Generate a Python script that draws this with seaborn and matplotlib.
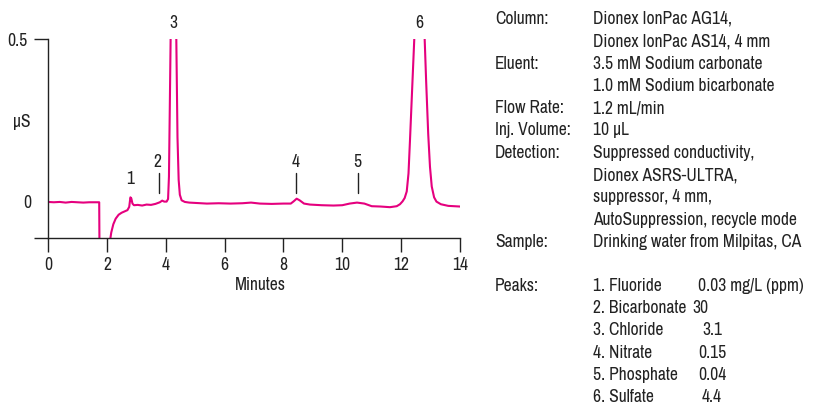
import matplotlib.pyplot as plt
import seaborn as sns
import pandas as pd
from matplotlib import font_manager as fm

# chromatogram trace (minutes, uS)
time = [0.00, 0.20, 0.40, 0.60, 0.80, 1.00, 1.20, 1.40, 1.60, 1.74,
        1.75, 1.78, 1.95, 2.05, 2.10, 2.15, 2.22, 2.30, 2.40, 2.50,
        2.60, 2.70, 2.76, 2.80, 2.83, 2.87, 2.92, 3.05, 3.20, 3.35,
        3.50, 3.65, 3.80, 3.88, 3.95, 4.03, 4.08, 4.11, 4.14, 4.18,
        4.22, 4.27, 4.32, 4.36, 4.40, 4.44, 4.48, 4.54, 4.65, 4.80,
        5.00, 5.40, 5.80, 6.20, 6.60, 6.90, 7.20, 7.60, 8.00, 8.25,
        8.35, 8.45, 8.55, 8.70, 8.90, 9.30, 9.70, 10.00, 10.25, 10.50,
        10.75, 11.00, 11.30, 11.62, 11.85, 11.96, 12.05, 12.12, 12.19, 12.25,
        12.30, 12.38, 12.47, 12.55, 12.62, 12.70, 12.78, 12.85, 12.92, 12.98,
        13.04, 13.12, 13.20, 13.35, 13.60, 13.80, 14.00]
signal = [0.003, 0.002, 0.003, 0.001, 0.003, 0.002, 0.001, 0.002, 0.002, 0.002,
          -0.15, -0.35, -0.35, -0.20, -0.12, -0.09, -0.065, -0.048, -0.036, -0.030,
          -0.026, -0.022, -0.012, 0.017, 0.014, -0.002, -0.007, -0.006, -0.008, -0.005,
          -0.006, -0.003, 0.002, 0.007, 0.004, 0.004, 0.012, 0.08, 0.30, 0.60,
          0.95, 1.15, 0.95, 0.50, 0.20, 0.07, 0.025, 0.008, 0.003, 0.001,
          0.000, -0.002, -0.001, -0.002, -0.001, 0.001, -0.002, -0.003, -0.002, -0.002,
          0.005, 0.013, 0.008, -0.002, -0.005, -0.007, -0.008, -0.007, -0.002, 0.001,
          -0.002, -0.010, -0.011, -0.013, -0.010, -0.004, 0.005, 0.015, 0.035, 0.09,
          0.19, 0.36, 0.55, 0.78, 0.88, 0.78, 0.55, 0.37, 0.21, 0.11,
          0.05, 0.017, 0.004, -0.004, -0.009, -0.010, -0.011]

peak_ids = ['1', '2', '3', '4', '5', '6']
peak_times = [2.78, 3.78, 4.27, 8.42, 10.52, 12.62]

info_keys = ['Column:', '', 'Eluent:', '', 'Flow Rate:', 'Inj. Volume:',
             'Detection:', '', '', '', 'Sample:']
info_vals = ['Dionex IonPac AG14,', 'Dionex IonPac AS14, 4 mm',
             '3.5 mM Sodium carbonate', '1.0 mM Sodium bicarbonate',
             '1.2 mL/min', '10 µL', 'Suppressed conductivity,',
             'Dionex ASRS-ULTRA,', 'suppressor, 4 mm,',
             'AutoSuppression, recycle mode', 'Drinking water from Milpitas, CA']

peak_names = ['1. Fluoride', '2. Bicarbonate', '3. Chloride',
              '4. Nitrate', '5. Phosphate', '6. Sulfate']
peak_conc = ['0.03 mg/L (ppm)', '30', '3.1', '0.15', '0.04', '4.4']

sns.set_style('ticks')

# prefer a narrow sans if one is installed, otherwise Liberation Sans
narrow = [f.name for f in fm.fontManager.ttflist
          if 'Narrow' in f.name or 'Condensed' in f.name]
family = narrow[0] if narrow else 'Liberation Sans'
plt.rcParams['font.family'] = [family, 'DejaVu Sans']
plt.rcParams['font.weight'] = 'light'

W, H = 815, 405
fig = plt.figure(figsize=(W / 100, H / 100), dpi=100)

# size the text so a reference line has the width it has in the picture
renderer = fig.canvas.get_renderer()
probe = fig.text(0, 0, 'Dionex IonPac AS14, 4 mm', fontsize=12)
fs = 12 * 177 / probe.get_window_extent(renderer).width
probe.remove()
fs = min(fs, 13)
plt.rcParams['font.size'] = fs
ink = '#222222'

ymin = -0.107
ax = fig.add_axes([48 / W, 1 - 238 / H, 412 / W, 199 / H])

df = pd.DataFrame({'Minutes': time, 'uS': signal})
sns.lineplot(data=df, x='Minutes', y='uS', sort=False, estimator=None,
             color='#e5007e', lw=1.5, ax=ax)

ax.set_xlim(0, 14)
ax.set_ylim(ymin, 0.5)
ax.set_xticks(range(0, 15, 2))
ax.set_yticks([ymin, 0.5])
ax.set_yticklabels(['', '0.5'])
ax.tick_params(axis='both', length=10, width=1, color=ink,
               labelcolor=ink, labelsize=fs)
ax.tick_params(axis='y', pad=5)
ax.tick_params(axis='x', pad=4)
sns.despine(ax=ax)
for s in ['left', 'bottom']:
    ax.spines[s].set_linewidth(1)
    ax.spines[s].set_color(ink)
ax.set_xlabel('')
ax.set_ylabel('')

# y-axis extras
ax.text(-0.58, 0.0, '0', ha='right', va='center', color=ink, clip_on=False)
ax.text(-0.58, 0.248, 'µS', ha='right', va='center', color=ink, clip_on=False)
fig.text(260 / W, 1 - 285 / H, 'Minutes', ha='center', va='center', color=ink)

# peak labels
label_y = [0.073, 0.125, 0.549, 0.125, 0.125, 0.549]
marker = [False, True, False, True, True, False]
for pid, t, ly, m in zip(peak_ids, peak_times, label_y, marker):
    ax.text(t - 0.05 if pid == '2' else t, ly, pid, ha='center', va='center',
            color=ink, clip_on=False)
    if m:
        ax.plot([t, t], [0.031, 0.092], color=ink, lw=1)

# right-hand method text
y0, dy = 19, 22.3
for i, (k, v) in enumerate(zip(info_keys, info_vals)):
    y = 1 - (y0 + i * dy) / H
    fig.text(495 / W, y, k, ha='left', va='center', color=ink)
    fig.text(593 / W, y, v, ha='left', va='center', color=ink)

y1 = 286
fig.text(495 / W, 1 - y1 / H, 'Peaks:', ha='left', va='center', color=ink)
conc_x = [698, 692, 702, 698, 698, 702]
for i, (n, c) in enumerate(zip(peak_names, peak_conc)):
    y = 1 - (y1 + i * 22.2) / H
    fig.text(593 / W, y, n, ha='left', va='center', color=ink)
    fig.text(conc_x[i] / W, y, c, ha='left', va='center', color=ink)

fig.savefig('out.png', dpi=100)
